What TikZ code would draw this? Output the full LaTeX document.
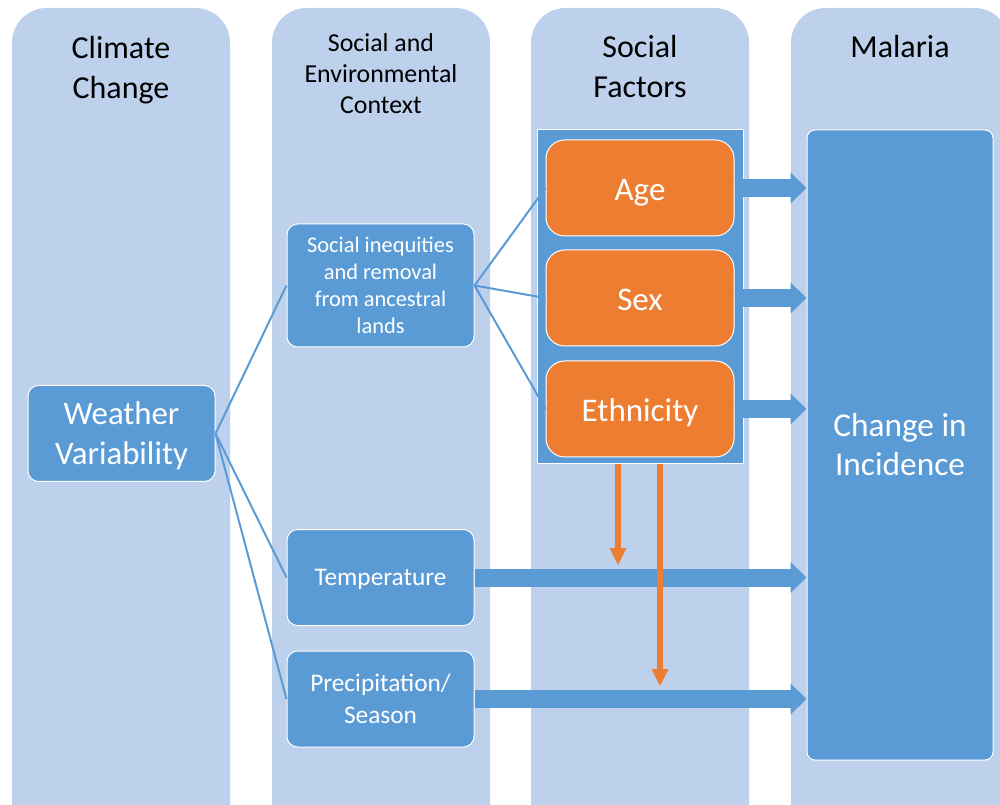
\documentclass[tikz,border=0pt]{standalone}
\usepackage{fontspec}
\setmainfont{Carlito}
\usepackage{xcolor}
\definecolor{ColBg}{RGB}{189,209,236}
\definecolor{ColBox}{RGB}{91,155,213}
\definecolor{ColFac}{RGB}{237,125,49}
\usetikzlibrary{arrows.meta}
\tikzstyle{Column}=[fill=ColBg,rounded corners=26pt]
\tikzstyle{Title}=[font=\fontsize{24}{30}\selectfont,align=center]
\tikzstyle{Box}=[rectangle,rounded corners=8pt,draw=white,line width=.75pt,
fill=ColBox,text=white,align=center,inner sep=0pt,minimum width=140.25pt,
minimum height=72pt,font=\fontsize{19}{24}\selectfont]
\tikzstyle{Factor}=[Box,fill=ColFac,rounded corners=14pt,minimum width=141pt,
font=\fontsize{24.75}{30}\selectfont,text height=19pt,text depth=0pt]
\tikzstyle{Edge}=[draw=ColBox,line width=1.5pt]
\tikzstyle{Flow}=[draw=ColBox,line width=13.5pt,
-{Triangle[width=23.25pt,length=12pt,line width=0pt]}]
\tikzstyle{Push}=[draw=ColFac,line width=4.5pt,
-{Triangle[width=12.75pt,length=12.75pt,line width=0pt]}]

\begin{document}
\begin{tikzpicture}[x=.75pt,y=-.75pt]
    \useasboundingbox(0,0)rectangle(1000,805);
    % columns
    \foreach \x in {12,272,531,791}
        \fill[Column](\x,840)--(\x,8)--(\x+218,8)--(\x+218,840)--cycle;
    \node[Title](cc)at(121,70){Climate\\Change};
    \node[Title,font=\fontsize{19.4}{23.25}\selectfont](sec)at(381,74)
        {Social and\\Environmental\\Context};
    \node[Title](sf)at(640,67){Social\\Factors};
    \node[Title](mal)at(900,47){Malaria};
    % boxes
    \node[Box,rectangle,rounded corners=0pt,minimum width=154.5pt,
        minimum height=250.5pt](fac)at(640,297){};
    \node[Box,font=\fontsize{24.6}{30}\selectfont,text depth=0pt]
        (wv)at(121.5,433.5){Weather\\Variability};
    \node[Box,minimum height=92.25pt,font=\fontsize{16.8}{20.25}\selectfont]
        (ineq)at(380.5,285.5)
        {Social inequities\\and removal\\from ancestral\\lands};
    \node[Box,text depth=0pt](temp)at(380.5,577.5){Temperature};
    \node[Box](prec)at(380.5,699){Precipitation/\\Season};
    \node[Factor](age)at(640,188){Age};
    \node[Factor](sex)at(640,298){Sex};
    \node[Factor](eth)at(640,409){Ethnicity};
    \node[Box,rounded corners=6pt,minimum width=139.5pt,minimum height=472.5pt,
        font=\fontsize{25}{29.25}\selectfont](inc)at(900,445)
        {Change in\\Incidence};
    % links
    \draw[Edge](wv.east)--(ineq.west);
    \draw[Edge](wv.east)--(temp.west);
    \draw[Edge](wv.east)--(prec.west);
    \draw[Edge](ineq.east)--(age.west);
    \draw[Edge](ineq.east)--(sex.west);
    \draw[Edge](ineq.east)--(eth.west);
    \draw[Flow](age.east)--(age.east-|inc.west);
    \draw[Flow](sex.east)--(sex.east-|inc.west);
    \draw[Flow](eth.east)--(eth.east-|inc.west);
    \draw[Flow](temp.east)--(temp.east-|inc.west);
    \draw[Flow](prec.east)--(prec.east-|inc.west);
    \coordinate(p1)at(618,565);
    \coordinate(p2)at(660,686);
    \draw[Push](fac.south-|p1)--(p1);
    \draw[Push](fac.south-|p2)--(p2);
\end{tikzpicture}
\end{document}
